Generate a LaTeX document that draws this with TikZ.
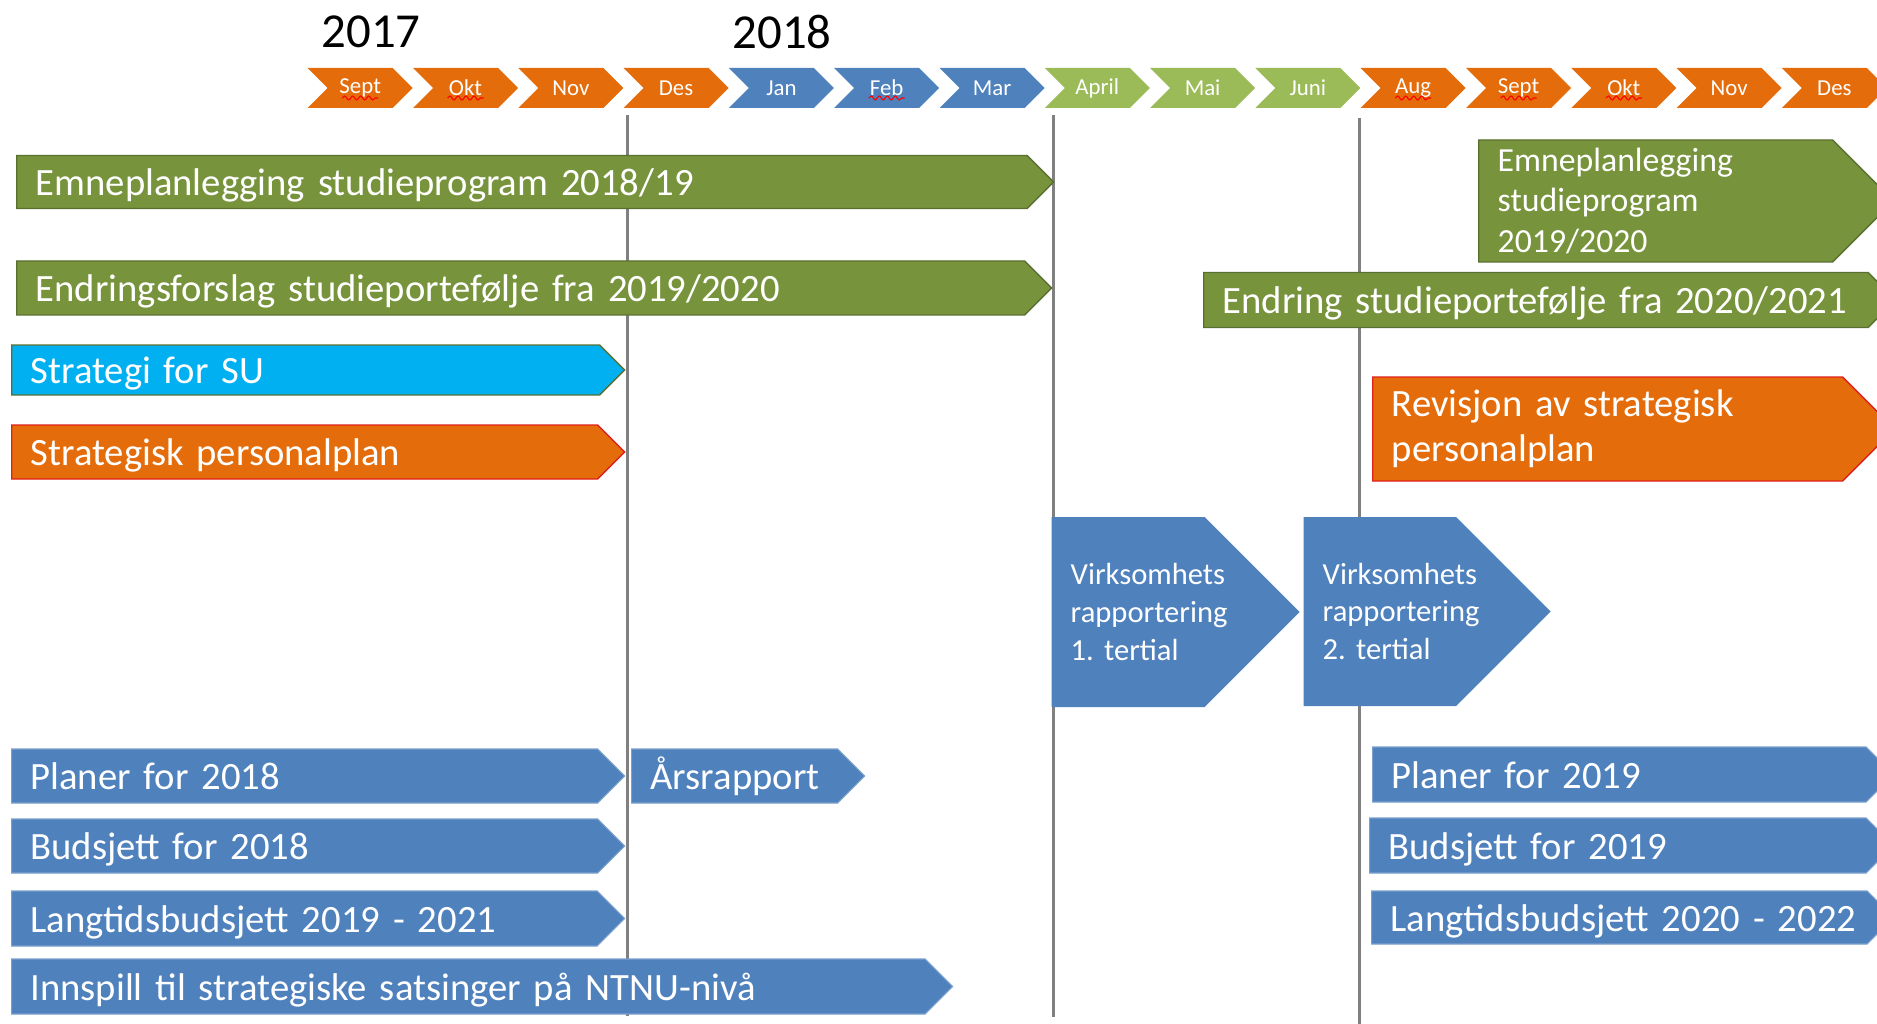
\documentclass[tikz,border=0pt]{standalone}
\usepackage{fontspec}
\setmainfont{Carlito}
\usepackage{tikz}
\usetikzlibrary{shapes.symbols,decorations.pathmorphing}

\definecolor{olivebar}{HTML}{77933C}
\definecolor{oliveedge}{HTML}{5A7030}
\definecolor{cyanbar}{HTML}{00B0F0}
\definecolor{orangebar}{HTML}{E46C0A}
\definecolor{rededge}{HTML}{E0201B}
\definecolor{bluebar}{HTML}{4F81BD}
\definecolor{greenmonth}{HTML}{9BBB59}
\definecolor{dividergray}{HTML}{808080}

\newcommand{\planfont}{\fontsize{11}{13.5}\selectfont}
\newcommand{\revifont}{\fontsize{11}{12.9}\selectfont}
\newcommand{\smallfont}{\fontsize{9.6}{11.4}\selectfont}
\newcommand{\virkfont}{\fontsize{8.7}{10.7}\selectfont}
\newcommand{\monthfont}{\fontsize{6.5}{7}\selectfont}
\newcommand{\yearfont}{\fontsize{13.9}{16}\selectfont}
\hyphenpenalty=10000
\frenchspacing

\begin{document}
\begin{tikzpicture}[
        x=0.1mm, y=-0.1mm,
        every node/.append style={inner sep=0pt},
        month/.style={signal, signal from=west, signal to=east, signal pointer angle=90,
            minimum width=10.5mm, minimum height=4mm, text=white, font=\monthfont},
        plan/.style 2 args={signal, signal to=east, signal pointer angle=90, anchor=west,
            inner xsep=1.9mm, text width=#1, minimum height=#2, align=left,
            text=white, font=\planfont},
        oneline/.style={text height=3.3mm, text depth=0.6mm},
        olive/.style={fill=olivebar, draw=oliveedge, line width=0.4pt},
        subar/.style={fill=cyanbar, draw=oliveedge, line width=0.4pt},
        orangeplan/.style={fill=orangebar, draw=rededge, line width=0.4pt},
        blueplan/.style={fill=bluebar, draw=bluebar!75!white, line width=0.3pt},
        divider/.style={draw=dividergray, line width=0.3mm},
        squiggle/.style={draw=red, line width=0.3pt, decorate,
            decoration={snake, amplitude=0.2mm, segment length=0.8mm}},
        year/.style={font=\yearfont}
    ]
    \useasboundingbox (0,0) rectangle (1877,1024);
    \clip (0,0) rectangle (1877,1024);
    \fill[white] (0,0) rectangle (1877,1024);

    % dividers behind the bars
    \coordinate (d1a) at (627,115);
    \coordinate (d1b) at (627,1016);
    \coordinate (d2a) at (1053,115);
    \coordinate (d2b) at (1053,1017);
    \coordinate (d3a) at (1359,118);
    \coordinate (d3b) at (1359,1024);
    \draw[divider] (d1a) -- (d1b);
    \draw[divider] (d2a) -- (d2b);
    \draw[divider] (d3a) -- (d3b);

    % years and months
    \node[year] (y17) at (371,32) {2017};
    \node[year] (y18) at (782,32) {2018};
    \foreach \m/\c [count=\i from 0] in {Sept/orangebar, Okt/orangebar, Nov/orangebar,
            Des/orangebar, Jan/bluebar, Feb/bluebar, Mar/bluebar, April/greenmonth,
            Mai/greenmonth, Juni/greenmonth, Aug/orangebar, Sept/orangebar,
            Okt/orangebar, Nov/orangebar, Des/orangebar}
        \node[month, fill=\c] (m\i) at (360.2+105.3*\i,88) {\m};
    \foreach \i in {0,1,5,10,11,12}
        \draw[squiggle] ([xshift=-1.8mm,yshift=-1mm]m\i.center) -- ([xshift=1.8mm,yshift=-1mm]m\i.center);

    % study plans and strategy
    \node[plan={97.25mm}{5.3mm}, oneline, olive] (emne18) at (16,182) {Emneplanlegging studieprogram 2018/19};
    \node[plan={97mm}{5.4mm}, oneline, olive] (endr19) at (16,288) {Endringsforslag studieportefølje fra 2019/2020};
    \node[plan={55mm}{5mm}, oneline, subar] (strat) at (11,370) {Strategi for SU};
    \node[plan={54.8mm}{5.4mm}, oneline, orangeplan] (perso) at (11,452) {Strategisk personalplan};
    \node[plan={31.6mm}{12.2mm}, olive, font=\smallfont] (emne19) at (1478,201) {Emneplanlegging\\studieprogram\\2019/2020};
    \node[plan={62.65mm}{5.5mm}, oneline, olive] (endr20) at (1203,300) {\mbox{Endring studieportefølje fra 2020/2021}};
    \node[plan={43.2mm}{10.4mm}, orangeplan, font=\revifont] (revi) at (1372,429) {Revisjon av strategisk\\personalplan};

    % reporting
    \node[plan={11.5mm}{19mm}, fill=bluebar, font=\virkfont] (virk1) at (1051,612) {Virksomhets\\rapportering\\1. tertial};
    \node[plan={11.45mm}{18.9mm}, fill=bluebar, font=\virkfont] (virk2) at (1303,611.5) {Virksomhets\\rapportering\\2. tertial};

    % plans and budgets
    \node[plan={54.8mm}{5.4mm}, oneline, blueplan] (plan18) at (11,776) {Planer for 2018};
    \node[plan={16.8mm}{5.4mm}, oneline, blueplan] (aars) at (631,776) {Årsrapport};
    \node[plan={54.8mm}{5.4mm}, oneline, blueplan] (buds18) at (11,846) {Budsjett for 2018};
    \node[plan={54.75mm}{5.5mm}, oneline, blueplan] (lang19) at (11,918.5) {Langtidsbudsjett 2019 - 2021};
    \node[plan={87.55mm}{5.5mm}, oneline, blueplan] (innsp) at (11,986.5) {Innspill til strategiske satsinger på NTNU-nivå};
    \node[plan={45.55mm}{5.5mm}, oneline, blueplan] (plan19) at (1372,774.5) {Planer for 2019};
    \node[plan={45.85mm}{5.5mm}, oneline, blueplan] (buds19) at (1369,845.5) {Budsjett for 2019};
    \node[plan={45.75mm}{5.3mm}, oneline, blueplan] (lang20) at (1371,917.5) {\mbox{Langtidsbudsjett 2020 - 2022}};
\end{tikzpicture}
\end{document}
